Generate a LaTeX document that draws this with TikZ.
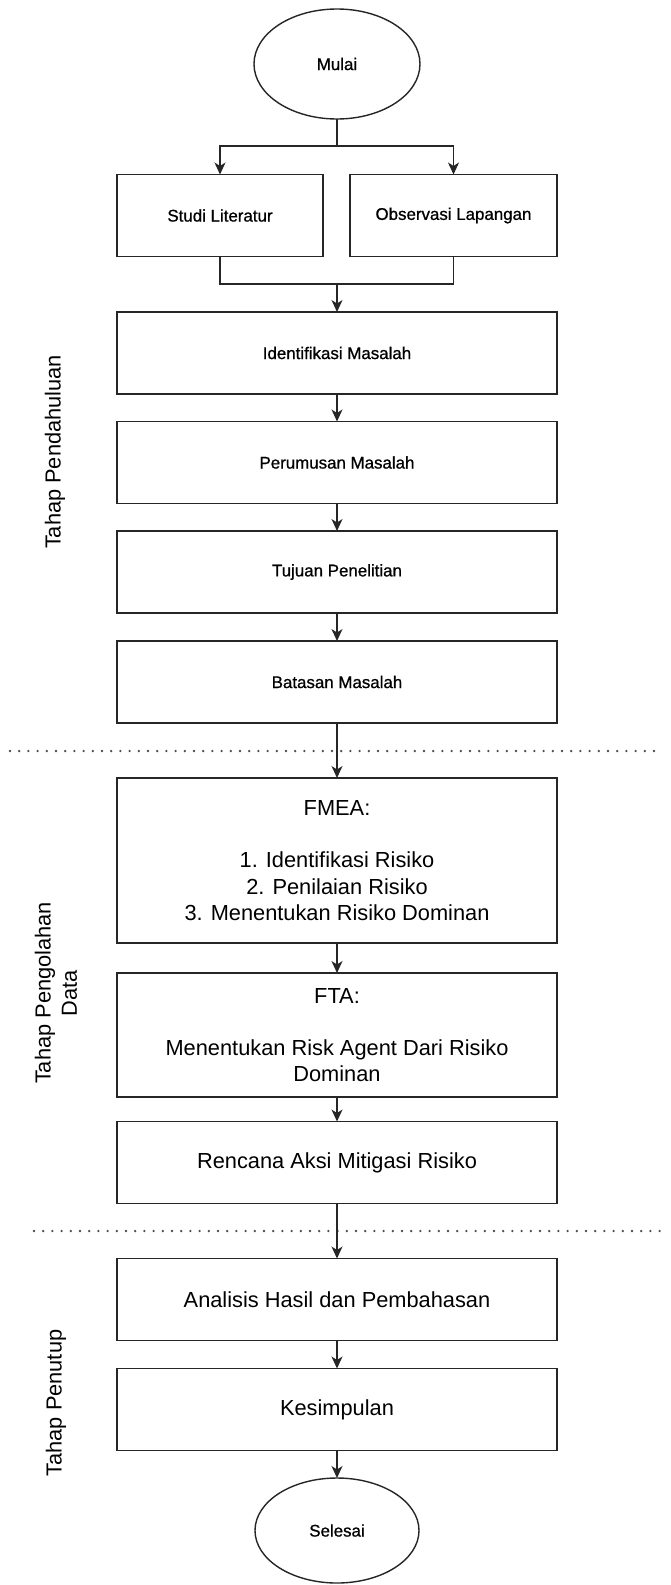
\documentclass[tikz,border=0pt]{standalone}
\usepackage{fontspec}
\setmainfont{Liberation Sans}
\newfontfamily\boxfont[FakeBold=0.8]{Liberation Sans}
\usetikzlibrary{arrows.meta,shapes.geometric}

\begin{document}
\begin{tikzpicture}[x=1pt,y=-1pt,
  every node/.style={inner sep=0pt, outer sep=0pt, text=black},
  smalltxt/.style={font=\boxfont\fontsize{16.9}{20.3}\selectfont},
  bigtxt/.style={font=\fontsize{21.8}{26.2}\selectfont},
  procbox/.style={draw=black!85, line width=1.4pt, fill=white, align=center},
  widebox/.style={procbox, minimum width=440pt},
  terminal/.style={draw=black!85, line width=1.4pt, ellipse, fill=white},
  flow/.style={draw=black!85, line width=1.4pt},
  arr/.style={flow, -{Stealth[length=12pt, width=11pt, inset=3.5pt]}},
  phaseline/.style={draw=black!70, line width=2.6pt, line cap=round,
    dash pattern=on 0pt off 9.2pt},
  phaselabel/.style={bigtxt, rotate=90, align=center}
]
\useasboundingbox (0,0) rectangle (670,1585);

% start and the two preparatory activities
\node[terminal, smalltxt, minimum width=166pt, minimum height=110pt] (mulai) at (337,64) {Mulai};
\node[procbox, smalltxt, minimum width=206pt, minimum height=82pt] (studi) at (220,215.5) {Studi Literatur};
\node[procbox, smalltxt, minimum width=207pt, minimum height=82pt] (obs) at (453.5,215.5) {Observasi Lapangan};

% preliminary stage
\node[widebox, smalltxt, minimum height=82pt] (ident) at (337,353) {Identifikasi Masalah};
\node[widebox, smalltxt, minimum height=82pt] (rumus) at (337,462.5) {Perumusan Masalah};
\node[widebox, smalltxt, minimum height=82pt] (tujuan) at (337,572) {Tujuan Penelitian};
\node[widebox, smalltxt, minimum height=82pt] (batas) at (337,682) {Batasan Masalah};

% data processing stage
\node[widebox, bigtxt, minimum height=165pt] (fmea) at (337,860.5)
  {FMEA:\\\mbox{}\\1. Identifikasi Risiko\\2. Penilaian Risiko\\3. Menentukan Risiko Dominan};
\node[widebox, bigtxt, minimum height=124pt] (fta) at (337,1035)
  {FTA:\\\mbox{}\\Menentukan Risk Agent Dari Risiko\\Dominan};
\node[widebox, bigtxt, minimum height=82pt] (rencana) at (337,1162.5) {Rencana Aksi Mitigasi Risiko};

% closing stage
\node[widebox, bigtxt, minimum height=82pt] (analisis) at (337,1299.5) {Analisis Hasil dan Pembahasan};
\node[widebox, bigtxt, minimum height=82pt] (simpul) at (337,1409.5) {Kesimpulan};
\node[terminal, smalltxt, minimum width=164pt, minimum height=105pt] (selesai) at (337,1530.5) {Selesai};

% stage separators
\coordinate (sepAl) at (10,751);
\coordinate (sepAr) at (660,751);
\coordinate (sepBl) at (34,1231);
\coordinate (sepBr) at (668,1231);
\draw[phaseline] (sepAl) -- (sepAr);
\draw[phaseline] (sepBl) -- (sepBr);

% stage labels
\node[phaselabel] (lblA) at (55,452) {Tahap Pendahuluan};
\node[phaselabel] (lblB) at (56,993) {Tahap Pengolahan\\Data};
\node[phaselabel] (lblC) at (56,1403) {Tahap Penutup};

% connectors
\coordinate (split) at (337,146);
\coordinate (merge) at (337,284);
\draw[flow] (mulai.south) -- (split);
\draw[arr] (split) -| (studi.north);
\draw[arr] (split) -| (obs.north);
\draw[flow] (studi.south) |- (merge) -| (obs.south);
\draw[arr] (merge) -- (ident.north);
\draw[arr] (ident) -- (rumus);
\draw[arr] (rumus) -- (tujuan);
\draw[arr] (tujuan) -- (batas);
\draw[arr] (batas) -- (fmea);
\draw[arr] (fmea) -- (fta);
\draw[arr] (fta) -- (rencana);
\draw[arr] (rencana) -- (analisis);
\draw[arr] (analisis) -- (simpul);
\draw[arr] (simpul) -- (selesai);
\end{tikzpicture}
\end{document}
